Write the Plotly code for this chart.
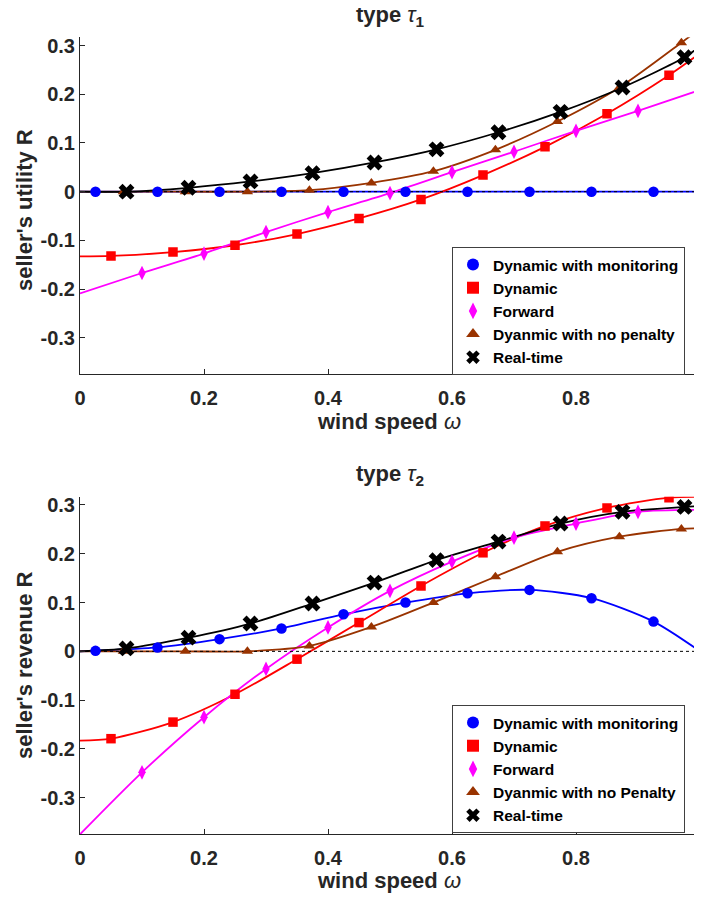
import plotly.graph_objects as go

# ---------------- data ----------------
x_ticks = [0, 0.2, 0.4, 0.6, 0.8, 1]
x_tick_text = ["0", "0.2", "0.4", "0.6", "0.8", "1"]
y_ticks = [-0.3, -0.2, -0.1, 0, 0.1, 0.2, 0.3]
y_tick_text = ["-0.3", "-0.2", "-0.1", "0", "0.1", "0.2", "0.3"]

names_top = ["Dynamic with monitoring", "Dynamic", "Forward", "Dyanmic with no penalty", "Real-time"]
names_bot = ["Dynamic with monitoring", "Dynamic", "Forward", "Dyanmic with no Penalty", "Real-time"]

# marker positions (wind speed) for each series
w_mon = [0.025, 0.125, 0.225, 0.325, 0.425, 0.525, 0.625, 0.725, 0.825, 0.925]
w_dyn = [0.05, 0.15, 0.25, 0.35, 0.45, 0.55, 0.65, 0.75, 0.85, 0.95]
w_fwd = [0.1, 0.2, 0.3, 0.4, 0.5, 0.6, 0.7, 0.8, 0.9, 1.0]
w_nop = [0.07, 0.17, 0.27, 0.37, 0.47, 0.57, 0.67, 0.77, 0.87, 0.97]
w_rt = [0.075, 0.175, 0.275, 0.375, 0.475, 0.575, 0.675, 0.775, 0.875, 0.975]

# type tau_1 : seller's utility
t1_mon = [0, 0, 0, 0, 0, 0, 0, 0, 0, 0]
t1_dyn = [-0.132, -0.124, -0.110, -0.087, -0.055, -0.016, 0.034, 0.092, 0.160, 0.239]
t1_fwd = [-0.167, -0.127, -0.083, -0.042, -0.003, 0.040, 0.082, 0.125, 0.166, 0.209]
t1_nop = [0, 0, 0, 0.003, 0.018, 0.042, 0.086, 0.144, 0.214, 0.306]
t1_rt = [0, 0.008, 0.021, 0.038, 0.060, 0.087, 0.122, 0.164, 0.214, 0.276]
# curve values at w=0 and w=1
t1_mon_ends = (0, 0)
t1_dyn_ends = (-0.133, 0.284)
t1_fwd_ends = (-0.209, None)
t1_nop_ends = (0, 0.335)
t1_rt_ends = (0, 0.298)

# type tau_2 : seller's revenue
t2_mon = [0.001, 0.008, 0.025, 0.047, 0.076, 0.100, 0.119, 0.126, 0.109, 0.061]
t2_dyn = [-0.179, -0.145, -0.088, -0.016, 0.059, 0.134, 0.202, 0.257, 0.294, 0.315]
t2_fwd = [-0.248, -0.135, -0.036, 0.049, 0.124, 0.184, 0.233, 0.262, 0.286, 0.290]
t2_nop = [0, 0, 0, 0.011, 0.050, 0.100, 0.153, 0.204, 0.235, 0.251]
t2_rt = [0.006, 0.028, 0.057, 0.098, 0.141, 0.187, 0.225, 0.262, 0.286, 0.296]
t2_mon_ends = (0, 0)
t2_dyn_ends = (-0.183, 0.317)
t2_fwd_ends = (-0.375, None)
t2_nop_ends = (0, 0.252)
t2_rt_ends = (0, 0.298)

# ---------------- styles ----------------
colors = ["#0000FF", "#FF0000", "#FF00FF", "#993300", "#000000"]
symbols = ["circle", "square", "diamond-tall", "triangle-up", "x"]
sizes = [10.5, 9.5, 10.5, 10, 14]

# page body has an 8px margin -> figure is sized/offset so the screen matches
OFF = 8
W, H = 702 - OFF, 901 - 2 * OFF
FONT = "Liberation Sans, Arial, Helvetica, sans-serif"
TICKC = "#262626"

def px_x(p):
    return (p - OFF) / W

def px_y(p):
    return 1 - (p - OFF) / H

fig = go.Figure()

def add_panel(xa, ya, legend, names, series):
    # lines
    for i, (w, vals, ends) in enumerate(series):
        xs = list(w)
        ys = list(vals)
        if ends[0] is not None and xs[0] > 0:
            xs = [0] + xs
            ys = [ends[0]] + ys
        if ends[1] is not None and xs[-1] < 1:
            xs = xs + [1]
            ys = ys + [ends[1]]
        fig.add_trace(go.Scatter(
            x=xs, y=ys, mode="lines", xaxis=xa, yaxis=ya,
            line=dict(color=colors[i], width=1.8, shape="spline", smoothing=0.8),
            showlegend=False, hoverinfo="skip"))
    # dotted zero line
    fig.add_trace(go.Scatter(
        x=[0, 1], y=[0, 0], mode="lines", xaxis=xa, yaxis=ya,
        line=dict(color="black", width=1, dash="dot"),
        showlegend=False, hoverinfo="skip"))
    # markers
    for i, (w, vals, ends) in enumerate(series):
        fig.add_trace(go.Scatter(
            x=w, y=vals, mode="markers", xaxis=xa, yaxis=ya, name=names[i],
            legend=legend,
            marker=dict(color=colors[i], symbol=symbols[i], size=sizes[i],
                        line=dict(width=0))))

add_panel("x", "y", "legend", names_top, [
    (w_mon, t1_mon, t1_mon_ends), (w_dyn, t1_dyn, t1_dyn_ends),
    (w_fwd, t1_fwd, t1_fwd_ends), (w_nop, t1_nop, t1_nop_ends),
    (w_rt, t1_rt, t1_rt_ends)])
add_panel("x2", "y2", "legend2", names_bot, [
    (w_mon, t2_mon, t2_mon_ends), (w_dyn, t2_dyn, t2_dyn_ends),
    (w_fwd, t2_fwd, t2_fwd_ends), (w_nop, t2_nop, t2_nop_ends),
    (w_rt, t2_rt, t2_rt_ends)])

x_dom = [px_x(80), px_x(700)]
top_dom = [px_y(374.3), px_y(37.3)]
bot_dom = [px_y(834.3), px_y(496.7)]

def xaxis(anchor):
    return dict(domain=x_dom, anchor=anchor, range=[0, 1], tickvals=x_ticks,
                ticktext=x_tick_text, showline=True, linecolor=TICKC, linewidth=1,
                ticks="inside", ticklen=5, tickcolor=TICKC, showgrid=False,
                zeroline=False, ticklabelstandoff=6, automargin=False,
                ticklabeloverflow="allow",
                tickfont=dict(family=FONT, size=20, color=TICKC, weight="bold"))

def yaxis(anchor, dom):
    return dict(domain=dom, anchor=anchor, range=[-0.375, 0.317], tickvals=y_ticks,
                ticktext=y_tick_text, showline=True, linecolor=TICKC, linewidth=1,
                ticks="inside", ticklen=5, tickcolor=TICKC, showgrid=False,
                zeroline=False, automargin=False, ticklabeloverflow="allow",
                tickfont=dict(family=FONT, size=20, color=TICKC, weight="bold"))

legend_style = dict(xanchor="left", yanchor="top", bgcolor="white",
                    bordercolor="#404040", borderwidth=1, tracegroupgap=0,
                    font=dict(family=FONT, size=15.5, color="black", weight="bold"),
                    itemsizing="constant")

annotations = [
    dict(text="<b>type </b><i>τ</i><sub><b>1</b></sub>", x=px_x(390), y=px_y(16)),
    dict(text="<b>type </b><i>τ</i><sub><b>2</b></sub>", x=px_x(390), y=px_y(475)),
    dict(text="<b>wind speed </b><i>ω</i>", x=px_x(389), y=px_y(421)),
    dict(text="<b>wind speed </b><i>ω</i>", x=px_x(389), y=px_y(880)),
    dict(text="<b>seller's utility R</b>", x=px_x(24), y=px_y(210), textangle=-90),
    dict(text="<b>seller's revenue R</b>", x=px_x(24), y=px_y(665), textangle=-90),
]
for a in annotations:
    a.update(xref="paper", yref="paper", showarrow=False, xanchor="center",
             yanchor="middle", font=dict(family=FONT, size=22, color="#262626"))

fig.update_layout(
    width=W, height=H, margin=dict(l=0, r=0, t=0, b=0, autoexpand=False),
    paper_bgcolor="white", plot_bgcolor="white",
    xaxis=xaxis("y"), yaxis=yaxis("x", top_dom),
    xaxis2=xaxis("y2"), yaxis2=yaxis("x2", bot_dom),
    legend=dict(x=px_x(452), y=px_y(247), **legend_style),
    legend2=dict(x=px_x(452), y=px_y(705), **legend_style),
    annotations=annotations,
)

fig.write_html("out.html")
